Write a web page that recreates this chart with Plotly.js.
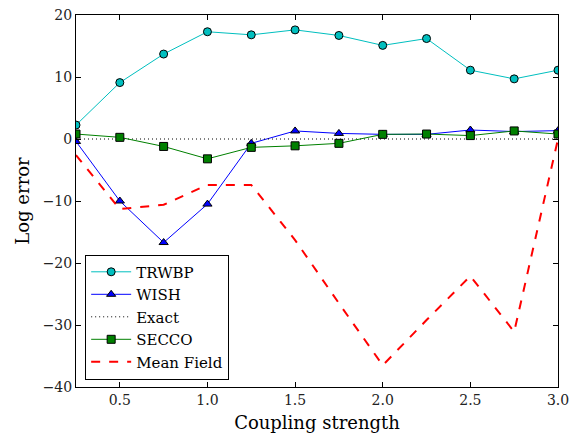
<!DOCTYPE html>
<html><head><meta charset="utf-8">
<script src="https://cdn.plot.ly/plotly-3.0.1.min.js"></script>
<style>body{margin:0;background:#fff}#chart{width:582px;height:436px}</style>
</head><body><div id="chart"></div>
<script>
const coupling = [0.25,0.5,0.75,1.0,1.25,1.5,1.75,2.0,2.25,2.5,2.75,3.0];
const trwbp = [2.25,9.1,13.7,17.3,16.8,17.6,16.7,15.1,16.2,11.1,9.7,11.1];
const wish = [-0.4,-10.0,-16.7,-10.5,-0.7,1.3,0.9,0.75,0.75,1.45,1.2,1.35];
const exact = [0,0,0,0,0,0,0,0,0,0,0,0];
const secco = [0.8,0.27,-1.2,-3.2,-1.35,-1.1,-0.7,0.75,0.8,0.55,1.3,0.8];
const meanField = [-2.6,-11.3,-10.6,-7.4,-7.4,-16.3,-26.5,-36.5,-29.2,-22.1,-31.1,0];
const xTicks = [0.5,1.0,1.5,2.0,2.5,3.0];
const xTickText = ['0.5','1.0','1.5','2.0','2.5','3.0'];
const yTicks = [-40,-30,-20,-10,0,10,20];
const yTickText = ['\u221240','\u221230','\u221220','\u221210','0','10','20'];

const font = 'DejaVu Serif, serif';
const traces = [
  {x:coupling,y:trwbp,name:'TRWBP',mode:'lines+markers',line:{color:'#00BFBF',width:1},
   marker:{symbol:'circle',size:8,color:'#00BFBF',line:{color:'#000',width:1}}},
  {x:coupling,y:wish,name:'WISH',mode:'lines+markers',line:{color:'#0000FF',width:1},
   marker:{symbol:'triangle-up',size:8,color:'#0000FF',line:{color:'#000',width:1}}},
  {x:coupling,y:exact,name:'Exact',mode:'lines',line:{color:'#000',width:1,dash:'1px,3px'}},
  {x:coupling,y:secco,name:'SECCO',mode:'lines+markers',line:{color:'#008000',width:1},
   marker:{symbol:'square',size:8,color:'#008000',line:{color:'#000',width:1}}},
  {x:coupling,y:meanField,name:'Mean Field',mode:'lines',line:{color:'#FF0000',width:2,dash:'dash'}}
];
const axisCommon = {showgrid:false,zeroline:false,showline:true,linecolor:'#000',linewidth:1,
  mirror:'ticks',ticks:'inside',ticklen:5,tickcolor:'#000',tickfont:{family:font,size:14,color:'#222'}};
const layout = {
  width:582,height:436,margin:{l:76,r:24,t:15,b:49},
  paper_bgcolor:'#fff',plot_bgcolor:'#fff',showlegend:true,
  font:{family:font,color:'#000'},
  xaxis:Object.assign({},axisCommon,{range:[0.25,3.0],tickvals:xTicks,ticktext:xTickText,
    title:{text:'Coupling strength',font:{family:font,size:18,color:'#000'},standoff:9}}),
  yaxis:Object.assign({},axisCommon,{range:[-40,20],tickvals:yTicks,ticktext:yTickText,
    title:{text:'Log error',font:{family:font,size:18,color:'#000'},standoff:8}}),
  legend:{x:0.019,y:0.02,xanchor:'left',yanchor:'bottom',bgcolor:'#fff',bordercolor:'#000',borderwidth:1,
    font:{family:font,size:15,color:'#000'},itemwidth:40,tracegroupgap:0}
};
Plotly.newPlot('chart',traces,layout,{displayModeBar:false,staticPlot:true});
</script></body></html>
